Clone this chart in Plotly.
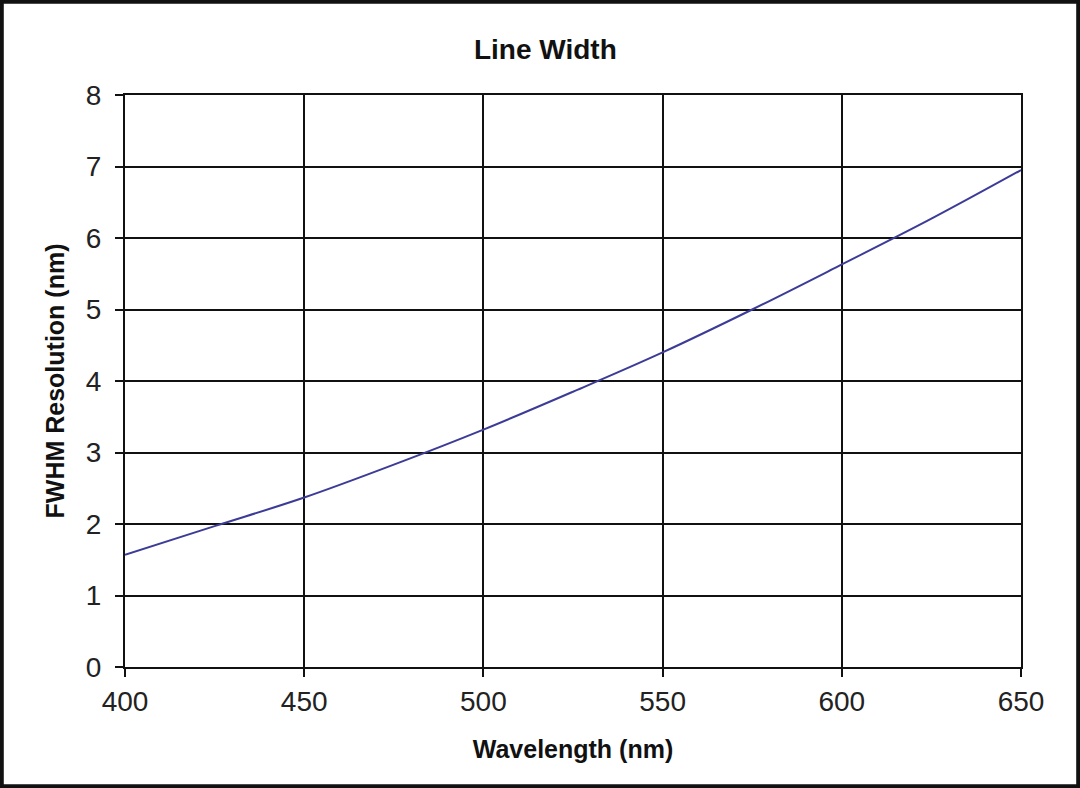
import plotly.graph_objects as go

# wavelength (nm) and FWHM resolution (nm)
wavelength = [400, 425, 450, 475, 500, 525, 550, 575, 600, 625, 650]
fwhm = [1.57, 1.97, 2.37, 2.83, 3.32, 3.85, 4.40, 5.0, 5.63, 6.27, 6.95]

x_ticks = [400, 450, 500, 550, 600, 650]
y_ticks = [0, 1, 2, 3, 4, 5, 6, 7, 8]

fig = go.Figure(go.Scatter(
    x=wavelength, y=fwhm,
    mode="lines",
    line={'color': "#3c3c98", 'width': 2, 'shape': "spline"},
    showlegend=False,
))

axis_style = dict(
    showgrid=True, gridcolor="#111111", gridwidth=2,
    showline=True, linecolor="#111111", linewidth=2, mirror=True,
    ticks="outside", ticklen=8, tickwidth=2, tickcolor="#111111",
    zeroline=False,
    tickfont={'size': 28, 'color': "#222222"},
)

fig.update_layout(
    width=1080, height=788,
    paper_bgcolor="white", plot_bgcolor="white",
    font={'family': "Liberation Sans, Arial", 'color': "#111111"},
    margin={'l': 125, 'r': 59, 't': 95, 'b': 121},
    title={'text': "<b>Line Width</b>", 'x': 0.505, 'xanchor': "center",
           'y': 0.937, 'yanchor': "middle", 'font': {'size': 28}},
    shapes=[{
        'type': "rect", 'xref': "paper", 'yref': "paper",
        'x0': -125 / 896 + 0.002, 'x1': 1 + 59 / 896 - 0.002,
        'y0': -121 / 572 + 0.003, 'y1': 1 + 95 / 572 - 0.003,
        'line': {'color': "#111111", 'width': 4},
    }],
)
fig.update_xaxes(axis_style, range=[400, 650], tickvals=x_ticks,
                 title={'text': "<b>Wavelength (nm)</b>", 'font': {'size': 25}, 'standoff': 25})
fig.update_yaxes(axis_style, range=[0, 8], tickvals=y_ticks, ticklabelstandoff=8,
                 title={'text': "<b>FWHM Resolution (nm)</b>", 'font': {'size': 25}, 'standoff': 14})

# the page's default body margin would push the figure 8px off the window
fig.write_html("out.html", config={'displayModeBar': False},
               post_script="document.body.style.margin = '0';")
